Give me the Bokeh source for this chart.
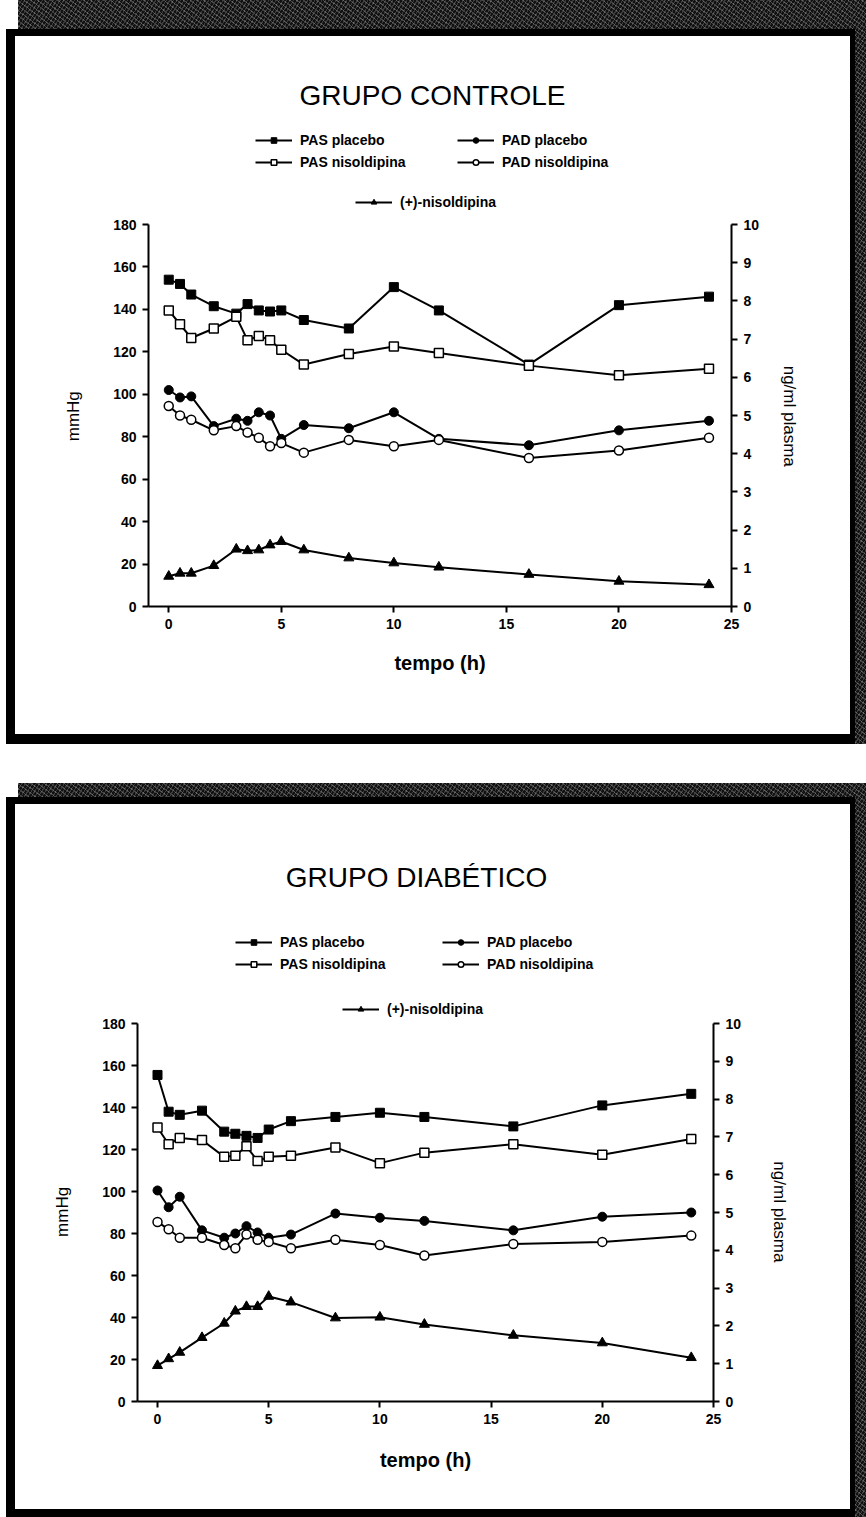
from bokeh.plotting import figure
from bokeh.models import LinearAxis, Range1d, Legend, LegendItem, FixedTicker, Spacer, Label
from bokeh.layouts import column
from bokeh.embed import file_html
from bokeh.resources import INLINE

FONT = "Liberation Sans"
NBSP = "\u00a0"
SPACE_EM = 0.2778          # advance width of a space in Liberation Sans
AXIS_LABEL_PX = 17

# sampling times (h)
tempo = [0, 0.5, 1, 2, 3, 3.5, 4, 4.5, 5, 6, 8, 10, 12, 16, 20, 24]
x_ticks = [0, 5, 10, 15, 20, 25]
mmhg_ticks = [0, 20, 40, 60, 80, 100, 120, 140, 160, 180]
plasma_ticks = [0, 1, 2, 3, 4, 5, 6, 7, 8, 9, 10]
MMHG_MAX = 180
PLASMA_MAX = 10

# GRUPO CONTROLE (mmHg, plasma in ng/ml)
ctrl_pas_placebo = [154, 152, 147, 141.5, 138, 142.5, 139.5, 139, 139.5, 135, 131, 150.5, 139.5, 114, 142, 146]
ctrl_pas_nisoldipina = [139.5, 133, 126.5, 131, 136.5, 125.5, 127.5, 125.5, 121, 114, 119, 122.5, 119.5, 113.5, 109, 112]
ctrl_pad_placebo = [102, 98.5, 99, 85, 88.5, 87.5, 91.5, 90, 79, 85.5, 84, 91.5, 79, 76, 83, 87.5]
ctrl_pad_nisoldipina = [94.5, 90, 88, 83, 85, 82, 79.5, 75.5, 77, 72.5, 78.5, 75.5, 78.5, 70, 73.5, 79.5]
ctrl_plasma = [0.79, 0.87, 0.87, 1.07, 1.50, 1.46, 1.48, 1.61, 1.70, 1.48, 1.27, 1.14, 1.03, 0.84, 0.66, 0.57]

# GRUPO DIABÉTICO
diab_pas_placebo = [155.5, 138, 136.5, 138.5, 128.5, 127.5, 126.5, 125.5, 129.5, 133.5, 135.5, 137.5, 135.5, 131, 141, 146.5]
diab_pas_nisoldipina = [130.5, 122.5, 125.5, 124.5, 116.5, 117, 121.5, 114.5, 116.5, 117, 121, 113.5, 118.5, 122.5, 117.5, 125]
diab_pad_placebo = [100.5, 92.5, 97.5, 81.5, 78, 80, 83.5, 80.5, 78, 79.5, 89.5, 87.5, 86, 81.5, 88, 90]
diab_pad_nisoldipina = [85.5, 82, 78, 78, 74.5, 73, 79.5, 77, 76, 73, 77, 74.5, 69.5, 75, 76, 79]
diab_plasma = [0.95, 1.13, 1.30, 1.69, 2.07, 2.39, 2.51, 2.51, 2.78, 2.63, 2.21, 2.23, 2.04, 1.75, 1.55, 1.16]


def style_axis(ax, ticks):
    ax.ticker = FixedTicker(ticks=ticks)
    ax.axis_line_width = 2
    ax.axis_line_color = "black"
    ax.major_tick_line_width = 2
    ax.major_tick_line_color = "black"
    ax.major_tick_out = 6
    ax.major_tick_in = 0
    ax.minor_tick_line_color = None
    ax.major_label_text_font = FONT
    ax.major_label_text_font_style = "bold"
    ax.major_label_text_font_size = "14px"
    ax.major_label_text_color = "black"
    ax.major_label_standoff = 6
    ax.axis_label_text_font = FONT
    ax.axis_label_text_font_size = f"{AXIS_LABEL_PX}px"
    ax.axis_label_text_color = "black"


def panel(title, pas_p, pas_n, pad_p, pad_n, plasma, g):
    # the frame reaches up to the top margin so the title and legends sit inside it;
    # the axes themselves are bounded to 0-180 mmHg and 0-10 ng/ml
    span = g["h"] - g["bottom"] - g["top"]           # frame height in px
    axis_px = g["y0"] - g["y180"]                     # px covered by 0..180
    y_end = MMHG_MAX * span / axis_px
    p = figure(width=g["w"], height=g["h"], x_range=Range1d(-0.9, 25),
               y_range=Range1d(0, y_end), output_backend="svg",
               toolbar_location=None,
               min_border_left=g["left"], min_border_right=g["right"],
               min_border_top=g["top"], min_border_bottom=g["bottom"])
    p.extra_y_ranges = {"plasma": Range1d(0, PLASMA_MAX * y_end / MMHG_MAX)}
    p.outline_line_color = None
    p.xgrid.visible = False
    p.ygrid.visible = False
    p.background_fill_color = "white"
    p.border_fill_color = "white"

    # vertical axis titles are centred on the whole frame; pad them so that the
    # visible words sit at the middle of the bounded 0-180 part
    shift = (g["y180"] - g["top"]) / 2
    pad = NBSP * round(2 * shift / (SPACE_EM * AXIS_LABEL_PX))

    style_axis(p.xaxis[0], x_ticks)
    p.xaxis[0].axis_label = "tempo (h)"
    p.xaxis[0].axis_label_text_font_style = "bold"
    p.xaxis[0].axis_label_text_font_size = "20px"
    p.xaxis[0].axis_label_standoff = g["xstand"]

    style_axis(p.yaxis[0], mmhg_ticks)
    p.yaxis[0].bounds = (0, MMHG_MAX)
    p.yaxis[0].axis_label = "mmHg" + pad
    p.yaxis[0].axis_label_text_font_style = "normal"
    p.yaxis[0].axis_label_standoff = 27

    rax = LinearAxis(y_range_name="plasma", axis_label=pad + "ng/ml plasma", bounds=(0, PLASMA_MAX))
    style_axis(rax, plasma_ticks)
    rax.axis_label_text_font_style = "normal"
    rax.axis_label_standoff = g["rstand"]
    p.add_layout(rax, "right")

    lw = 2
    l1 = p.line(tempo, pas_p, line_color="black", line_width=lw)
    m1 = p.scatter(tempo, pas_p, marker="square", size=9, fill_color="black", line_color="black")
    l2 = p.line(tempo, pas_n, line_color="black", line_width=lw)
    m2 = p.scatter(tempo, pas_n, marker="square", size=9, fill_color="white", line_color="black", line_width=1.5)
    l3 = p.line(tempo, pad_p, line_color="black", line_width=lw)
    m3 = p.scatter(tempo, pad_p, marker="circle", size=9, fill_color="black", line_color="black")
    l4 = p.line(tempo, pad_n, line_color="black", line_width=lw)
    m4 = p.scatter(tempo, pad_n, marker="circle", size=9, fill_color="white", line_color="black", line_width=1.5)
    l5 = p.line(tempo, plasma, line_color="black", line_width=lw, y_range_name="plasma")
    m5 = p.scatter(tempo, plasma, marker="triangle", size=10, fill_color="black", line_color="black", y_range_name="plasma")

    common = dict(border_line_color=None, background_fill_alpha=0, padding=0, margin=0,
                  spacing=6, glyph_width=37, glyph_height=14, label_height=14,
                  label_standoff=8, label_text_font=FONT, label_text_font_style="bold",
                  label_text_font_size="14px", label_text_color="black")
    fb = g["y0"]  # canvas y of the zero line (frame bottom)

    def leg(items, gx, top_row_y):
        n = len(items)
        bottom = top_row_y - 7 + n * 14 + (n - 1) * 6
        p.add_layout(Legend(items=items, location=(gx - g["left"], fb - bottom), **common))

    leg([LegendItem(label="PAS placebo", renderers=[l1, m1]),
         LegendItem(label="PAS nisoldipina", renderers=[l2, m2])], g["lg_pas"], g["row1"])
    leg([LegendItem(label="PAD placebo", renderers=[l3, m3]),
         LegendItem(label="PAD nisoldipina", renderers=[l4, m4])], g["lg_pad"], g["row1"])
    leg([LegendItem(label="(+)-nisoldipina", renderers=[l5, m5])], g["lg_nis"], g["row3"])

    p.add_layout(Label(x=g["title_x"], y=g["title_y"], x_units="canvas", y_units="canvas",
                       text=title, text_font=FONT, text_font_size="28px",
                       text_align="center", text_baseline="middle", text_color="black"))
    return p


# canvas-pixel layout of each chart (figure origin at page x=15)
g1 = dict(w=835, h=698, left=133, right=119, top=10, bottom=128, y180=188, y0=570,
          xstand=20, rstand=18, lg_pas=240, lg_pad=442, lg_nis=340, row1=107, row3=167,
          title_x=417, title_y=59)
g2 = dict(w=835, h=705, left=122, right=137, top=10, bottom=108, y180=219, y0=597,
          xstand=22, rstand=26, lg_pas=220, lg_pad=427, lg_nis=327, row1=141, row3=206,
          title_x=401, title_y=73)

p1 = panel("GRUPO CONTROLE", ctrl_pas_placebo, ctrl_pas_nisoldipina, ctrl_pad_placebo,
           ctrl_pad_nisoldipina, ctrl_plasma, g1)
p2 = panel("GRUPO DIABÉTICO", diab_pas_placebo, diab_pas_nisoldipina, diab_pad_placebo,
           diab_pad_nisoldipina, diab_plasma, g2)

# mounting: textured band on top/right, thick black border around each chart
texture = ("linear-gradient(to right, #ffffff 0px, #ffffff 18px, transparent 18px), "
           "repeating-linear-gradient(37deg, rgba(255,255,255,0.22) 0px, rgba(255,255,255,0.22) 1px, "
           "transparent 1px, transparent 4px), "
           "repeating-linear-gradient(-58deg, rgba(255,255,255,0.18) 0px, rgba(255,255,255,0.18) 1px, "
           "transparent 1px, transparent 3px)")


def mount(p, pad_top, border):
    inner = column(p, styles={"border-style": "solid", "border-color": "black",
                              "border-width": border, "background-color": "white"})
    return column(inner, styles={"background-color": "#111111", "background-image": texture,
                                 "padding": f"{pad_top}px 11px 0px 6px"})


layout = column(mount(p1, 29, "7px 5px 10px 9px"),
                Spacer(width=866, height=39),
                mount(p2, 14, "7px 5px 8px 9px"),
                spacing=0, styles={"background-color": "white"})
open("out.html", "w").write(file_html(layout, INLINE))
